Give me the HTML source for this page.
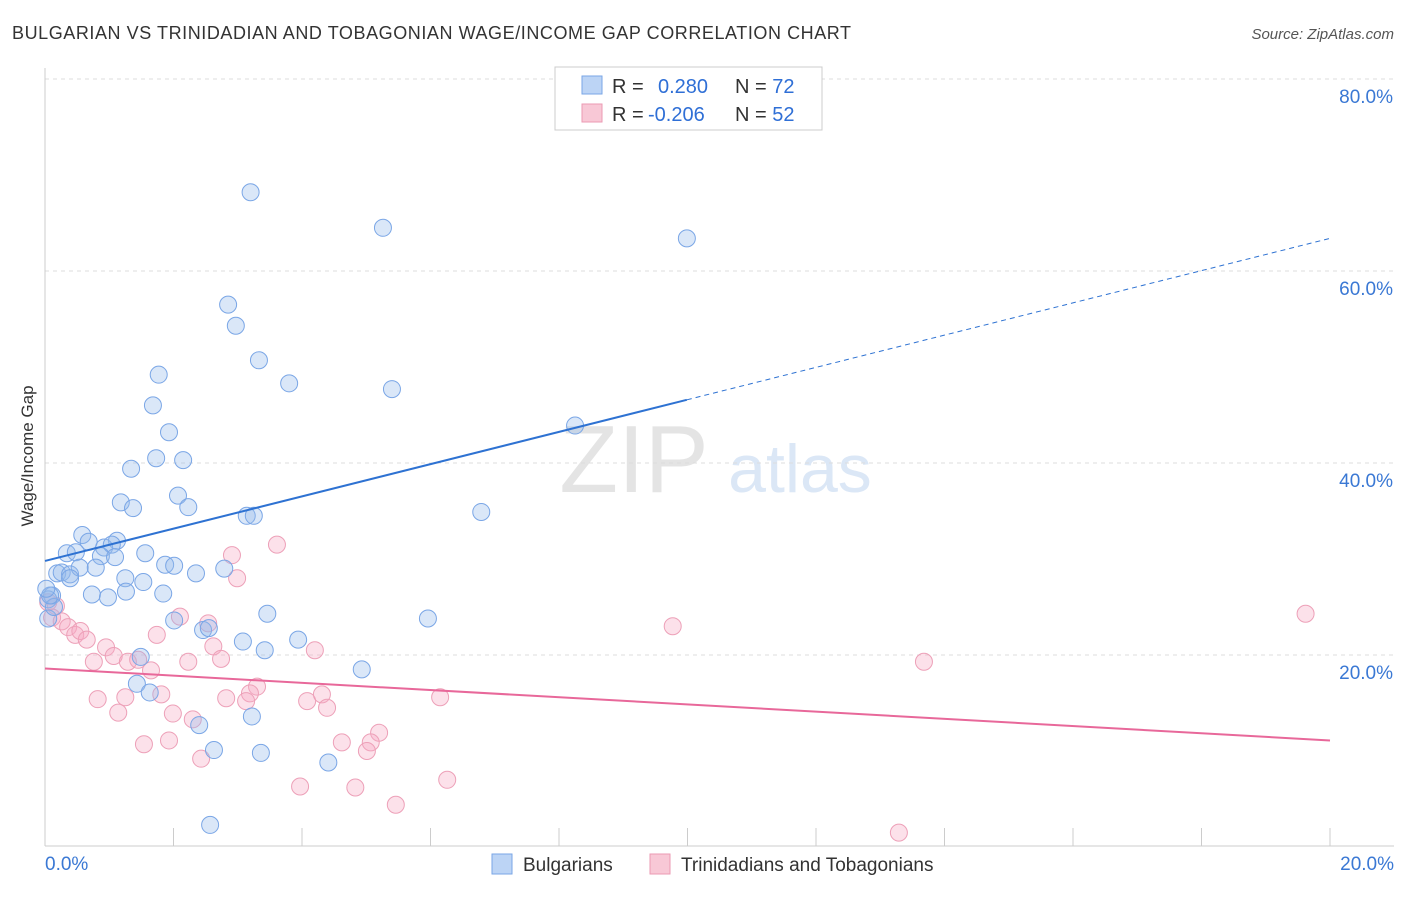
<!DOCTYPE html>
<html><head><meta charset="utf-8"><style>
body{margin:0;background:#fff;font-family:"Liberation Sans",sans-serif}
svg text{font-family:"Liberation Sans",sans-serif}
</style></head><body>
<svg id="c" width="1406" height="892">
<text x="12" y="39" font-size="18" textLength="839" fill="#333">BULGARIAN VS TRINIDADIAN AND TOBAGONIAN WAGE/INCOME GAP CORRELATION CHART</text>
<text x="1394" y="39" font-size="15" fill="#555" font-style="italic" text-anchor="end">Source: ZipAtlas.com</text>
<text x="33" y="456" font-size="17" fill="#333" transform="rotate(-90 33 456)" text-anchor="middle">Wage/Income Gap</text>
<text x="634" y="492" font-size="96" fill="#e4e4e4" text-anchor="middle" font-family="Liberation Serif">ZIP</text>
<text x="800" y="492" font-size="68" fill="#dbe7f6" text-anchor="middle">atlas</text>
<g id="grid"></g><g id="pts"></g><g id="lines"></g>
<g>
<rect x="555" y="67" width="267" height="63" fill="#fff" stroke="#ccc"/>
<rect x="582" y="76" width="20" height="18" fill="#bcd4f5" stroke="#7aa6e6"/>
<rect x="582" y="104" width="20" height="18" fill="#f8c8d6" stroke="#eb9ab3"/>
<text x="612" y="93" font-size="20" fill="#333">R = <tspan fill="#2f6fd6" x="658">0.280</tspan><tspan x="735">N = </tspan><tspan fill="#2f6fd6">72</tspan></text>
<text x="612" y="121" font-size="20" fill="#333">R = <tspan fill="#2f6fd6" x="648">-0.206</tspan><tspan x="735">N = </tspan><tspan fill="#2f6fd6">52</tspan></text>
</g>
<g>
<rect x="492" y="854" width="20" height="20" fill="#bcd4f5" stroke="#7aa6e6"/>
<text x="523" y="871" font-size="19" fill="#333">Bulgarians</text>
<rect x="650" y="854" width="20" height="20" fill="#f8c8d6" stroke="#eb9ab3"/>
<text x="681" y="871" font-size="19" fill="#333">Trinidadians and Tobagonians</text>
</g>
</svg>
<script>
const yTicks=[20,40,60,80];
const xTickLabels=["0.0%","20.0%"];
const bx=[3.2,5.26,9.99,2.85,2.97,3.33,3.8,5.4,1.77,1.68,1.93,1.73,2.15,8.25,1.34,2.07,1.18,1.37,2.23,3.14,3.25,6.79,0.58,0.68,1.12,0.34,0.48,0.92,1.04,1.56,0.87,1.09,0.19,0.26,0.39,0.54,0.79,1.87,2.01,2.79,1.25,0.39,1.53,2.35,0.73,0.98,1.26,1.84,0.11,0.05,3.46,2.01,5.96,2.46,2.55,3.08,3.94,3.42,1.49,4.93,1.43,1.63,2.4,3.22,2.63,3.36,4.41,2.57,0.05,0.14,0.08,0.02];
const by=[68.2,64.5,63.4,56.5,54.3,50.7,48.3,47.7,49.2,46.0,43.2,40.5,40.3,43.9,39.4,36.6,35.9,35.3,35.4,34.5,34.5,34.9,32.5,31.8,31.9,30.6,30.7,31.2,31.5,30.6,30.3,30.2,28.5,28.6,28.4,29.1,29.1,29.4,29.3,29.0,28.0,28.0,27.6,28.5,26.3,26.0,26.6,26.4,26.2,25.8,24.3,23.6,23.8,22.6,22.8,21.4,21.6,20.5,19.8,18.5,17.0,16.1,12.7,13.6,10.1,9.8,8.8,2.3,23.8,25.0,26.2,26.9];
const px=[3.61,2.91,2.99,19.62,9.77,13.68,0.05,0.17,0.11,0.26,0.36,0.47,0.55,0.65,0.95,2.1,2.54,1.74,2.62,2.74,4.2,0.76,1.07,1.29,1.45,1.65,2.23,3.3,3.19,0.82,1.25,1.81,2.82,3.13,4.08,4.31,4.39,6.15,1.14,1.99,2.3,5.2,5.07,5.01,4.62,1.54,1.93,2.43,3.97,4.83,6.26,5.46,13.29];
const py=[31.5,30.4,28.0,24.3,23.0,19.3,25.5,25.1,23.9,23.5,22.9,22.1,22.5,21.6,20.8,24.0,23.3,22.1,20.9,19.6,20.5,19.3,19.9,19.3,19.5,18.4,19.3,16.7,16.0,15.4,15.6,15.9,15.5,15.2,15.2,15.9,14.5,15.6,14.0,13.9,13.3,11.9,10.9,10.0,10.9,10.7,11.1,9.2,6.3,6.2,7.0,4.4,1.5];
const blueTrend=[29.8,1.68];
const pinkTrend=[18.6,-0.375];
const X=v=>45+v*64.25, Y=v=>847-v*9.6;
const NS="http://www.w3.org/2000/svg";
function mk(t,a,p){const e=document.createElementNS(NS,t);for(const k in a)e.setAttribute(k,a[k]);p.appendChild(e);return e;}
const g=document.getElementById('grid');
for(const t of yTicks){
 const l=mk('line',{x1:45,x2:1394,y1:Y(t),y2:Y(t),stroke:'#ddd','stroke-dasharray':'4,4'},g);
 
 
 const tx=mk('text',{x:1393,y:Y(t)+24,'font-size':19,fill:'#3a78d4','text-anchor':'end'},g);tx.textContent=t.toFixed(1)+'%';
 
 
}
mk('line',{x1:45,x2:45,y1:68,y2:846,stroke:'#ccc'},g);
mk('line',{x1:45,x2:1394,y1:846,y2:846,stroke:'#ccc'},g);
for(let i=0;i<=10;i++){const l=mk('line',{x1:X(i*2),x2:X(i*2),y1:828,y2:846,stroke:'#ccc'},g);
 
 }
const t0=mk('text',{x:45,y:870,'font-size':19,fill:'#3a78d4'},g);t0.textContent=xTickLabels[0];


const t1=mk('text',{x:1394,y:870,'font-size':19,fill:'#3a78d4','text-anchor':'end'},g);t1.textContent=xTickLabels[1];


const P=document.getElementById('pts');
for(let i=0;i<px.length;i++){const c=mk('circle',{cx:X(px[i]),cy:Y(py[i]),r:8.5,fill:'rgba(245,170,195,0.35)',stroke:'#eda0b8','stroke-width':1},P);
 
 }
for(let i=0;i<bx.length;i++){const c=mk('circle',{cx:X(bx[i]),cy:Y(by[i]),r:8.5,fill:'rgba(150,185,235,0.35)',stroke:'#7aa6e6','stroke-width':1},P);
 
 }
const L=document.getElementById('lines');
const [ba,bb]=blueTrend, [pa,pb]=pinkTrend;
const bmax=Math.max(...bx);
let l=mk('line',{x1:X(0),y1:Y(ba),x2:X(bmax),y2:Y(ba+bb*bmax),stroke:'#2e72d2','stroke-width':2},L);


l=mk('line',{x1:X(bmax),y1:Y(ba+bb*bmax),x2:X(20),y2:Y(ba+bb*20),stroke:'#2e72d2','stroke-width':1,'stroke-dasharray':'5,4'},L);


l=mk('line',{x1:X(0),y1:Y(pa),x2:X(20),y2:Y(pa+pb*20),stroke:'#e8689a','stroke-width':2},L);


</script>
</body></html>
